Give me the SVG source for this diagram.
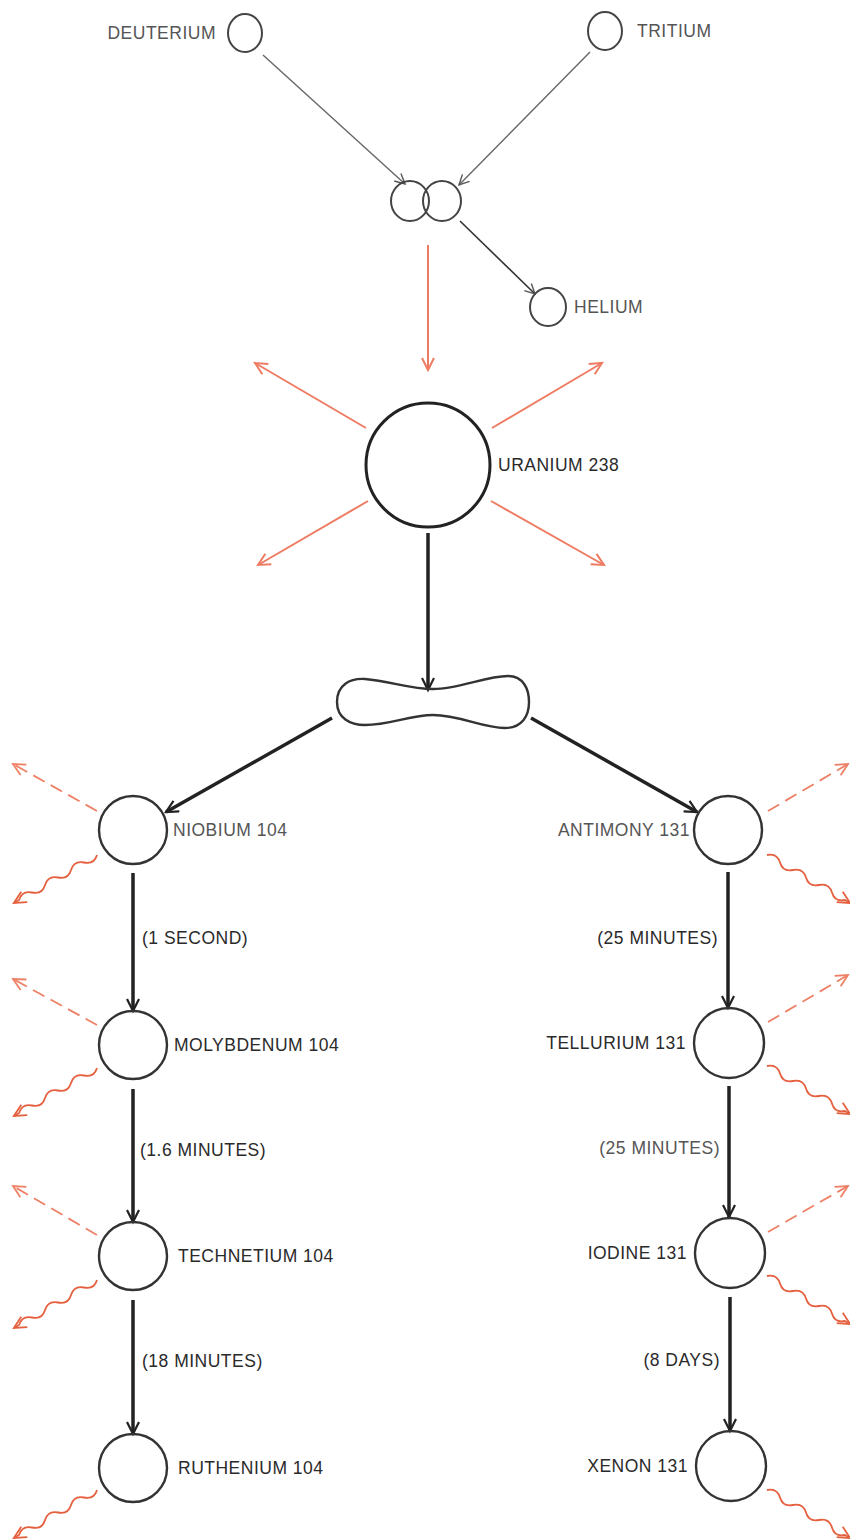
<svg xmlns="http://www.w3.org/2000/svg" width="850" height="1540" viewBox="0 0 850 1540">
<style>
text{font-family:"Liberation Sans",Arial,sans-serif;font-size:17.5px;letter-spacing:0.5px;fill:#2a2a2a}
.lt{fill:#555}
.c{fill:none;stroke:#333;stroke-width:2.4}
.ct{fill:none;stroke:#444;stroke-width:2}
.g{fill:none;stroke:#666;stroke-width:1.4}
.gd{fill:none;stroke:#333;stroke-width:1.6}
.s{fill:none;stroke:#ee7c62;stroke-width:2}
.b{fill:none;stroke:#222;stroke-width:3.5}
.d{fill:none;stroke:#ee8066;stroke-width:1.8;stroke-dasharray:13 7}
.w{fill:none;stroke:#e5603f;stroke-width:1.8}
</style>
<defs>
<marker id="mg" markerUnits="userSpaceOnUse" markerWidth="14" markerHeight="14" refX="11" refY="6" orient="auto"><path d="M1,1 L11,6 L1,11" fill="none" stroke="#555" stroke-width="1.4"/></marker>
<marker id="ms" markerUnits="userSpaceOnUse" markerWidth="16" markerHeight="16" refX="13" refY="7" orient="auto"><path d="M1,1 L13,7 L1,13" fill="none" stroke="#ee7c62" stroke-width="2"/></marker>
<marker id="mb" markerUnits="userSpaceOnUse" markerWidth="16" markerHeight="16" refX="13" refY="7" orient="auto"><path d="M1,1 L13,7 L1,13" fill="none" stroke="#222" stroke-width="2.2"/></marker>
<marker id="md" markerUnits="userSpaceOnUse" markerWidth="16" markerHeight="16" refX="13" refY="7" orient="auto"><path d="M1,1 L13,7 L1,13" fill="none" stroke="#ee8066" stroke-width="1.8"/></marker>
<marker id="mw" markerUnits="userSpaceOnUse" markerWidth="16" markerHeight="16" refX="13" refY="7" orient="auto"><path d="M1,1 L13,7 L1,13" fill="none" stroke="#e5603f" stroke-width="1.8"/></marker>
<path id="wave" class="w" marker-end="url(#mw)" d="M0,0 q7.5,-7 15,0 t15,0 t15,0 t15,0 t15,0 t15,0 l6,0"/>
</defs>
<rect width="850" height="1540" fill="#fff"/>

<g id="connectors">
<line class="g" x1="263" y1="55" x2="405" y2="184" marker-end="url(#mg)"/>
<line class="g" x1="590" y1="52" x2="459" y2="185" marker-end="url(#mg)"/>
<line class="gd" x1="460" y1="221" x2="535" y2="294" marker-end="url(#mg)"/>
<line class="s" x1="428" y1="245" x2="428" y2="370" marker-end="url(#ms)"/>
<line class="s" x1="366" y1="428" x2="255" y2="363" marker-end="url(#ms)"/>
<line class="s" x1="492" y1="428" x2="602" y2="363" marker-end="url(#ms)"/>
<line class="s" x1="368" y1="501" x2="258" y2="565" marker-end="url(#ms)"/>
<line class="s" x1="491" y1="501" x2="604" y2="565" marker-end="url(#ms)"/>
<line class="b" x1="428" y1="533" x2="428" y2="690" marker-end="url(#mb)"/>
<line class="b" x1="332" y1="718" x2="166" y2="812" marker-end="url(#mb)"/>
<line class="b" x1="531" y1="718" x2="697" y2="812" marker-end="url(#mb)"/>
<line class="b" x1="133" y1="873" x2="133" y2="1011" marker-end="url(#mb)"/>
<line class="b" x1="133" y1="1089" x2="133" y2="1222" marker-end="url(#mb)"/>
<line class="b" x1="133" y1="1300" x2="133" y2="1434" marker-end="url(#mb)"/>
<line class="b" x1="728" y1="872" x2="728" y2="1008" marker-end="url(#mb)"/>
<line class="b" x1="729" y1="1086" x2="729" y2="1217" marker-end="url(#mb)"/>
<line class="b" x1="730" y1="1297" x2="730" y2="1431" marker-end="url(#mb)"/>
<line class="d" x1="97" y1="811" x2="13" y2="764" marker-end="url(#md)"/>
<line class="d" x1="97" y1="1025" x2="13" y2="979" marker-end="url(#md)"/>
<line class="d" x1="97" y1="1235" x2="13" y2="1186" marker-end="url(#md)"/>
<use href="#wave" transform="translate(97,855) rotate(150)"/>
<use href="#wave" transform="translate(97,1068) rotate(150)"/>
<use href="#wave" transform="translate(97,1280) rotate(150)"/>
<use href="#wave" transform="translate(97,1490) rotate(150)"/>
<line class="d" x1="768" y1="811" x2="848" y2="764" marker-end="url(#md)"/>
<line class="d" x1="768" y1="1022" x2="848" y2="975" marker-end="url(#md)"/>
<line class="d" x1="768" y1="1232" x2="848" y2="1186" marker-end="url(#md)"/>
<use href="#wave" transform="translate(767,855) rotate(30)"/>
<use href="#wave" transform="translate(767,1066) rotate(30)"/>
<use href="#wave" transform="translate(767,1276) rotate(30)"/>
<use href="#wave" transform="translate(767,1490) rotate(30)"/>
</g>

<g id="labels">
<text x="142" y="944">(1 SECOND)</text>
<text x="140" y="1156">(1.6 MINUTES)</text>
<text x="142" y="1367">(18 MINUTES)</text>
<text x="718" y="944" text-anchor="end">(25 MINUTES)</text>
<text x="720" y="1154" text-anchor="end" class="lt">(25 MINUTES)</text>
<text x="720" y="1366" text-anchor="end">(8 DAYS)</text>
</g>

<g id="deuterium"><ellipse class="ct" cx="245" cy="33" rx="17" ry="19"/><text x="216" y="39" text-anchor="end" class="lt">DEUTERIUM</text></g>
<g id="tritium"><ellipse class="ct" cx="605" cy="31" rx="17" ry="19"/><text x="637" y="37" class="lt">TRITIUM</text></g>
<g id="fusion"><ellipse class="ct" cx="410" cy="201" rx="19" ry="20"/><ellipse class="ct" cx="442" cy="201" rx="19" ry="20"/></g>
<g id="helium"><ellipse class="ct" cx="548" cy="307" rx="18" ry="19"/><text x="574" y="313" class="lt">HELIUM</text></g>
<g id="uranium"><circle cx="428" cy="465" r="62" fill="none" stroke="#222" stroke-width="3"/><text x="498" y="471">URANIUM 238</text></g>
<g id="fission"><path class="c" d="M337,702 C337,685 350,678 365,679 C390,681 410,689 433,689 C460,689 485,676 508,676 C524,676 529,690 529,702 C529,716 522,728 505,728 C482,728 460,715 433,715 C410,715 390,725 365,725 C350,725 337,718 337,702 Z"/></g>
<g id="niobium"><circle class="c" cx="133" cy="830" r="34"/><text x="173" y="836" class="lt">NIOBIUM 104</text></g>
<g id="molybdenum"><circle class="c" cx="133" cy="1045" r="34"/><text x="174" y="1051">MOLYBDENUM 104</text></g>
<g id="technetium"><circle class="c" cx="133" cy="1256" r="34"/><text x="178" y="1262">TECHNETIUM 104</text></g>
<g id="ruthenium"><circle class="c" cx="133" cy="1468" r="34"/><text x="178" y="1474">RUTHENIUM 104</text></g>
<g id="antimony"><circle class="c" cx="728" cy="830" r="34"/><text x="690" y="836" text-anchor="end" class="lt">ANTIMONY 131</text></g>
<g id="tellurium"><circle class="c" cx="729" cy="1043" r="35"/><text x="686" y="1049" text-anchor="end">TELLURIUM 131</text></g>
<g id="iodine"><circle class="c" cx="730" cy="1253" r="35"/><text x="687" y="1259" text-anchor="end">IODINE 131</text></g>
<g id="xenon"><circle class="c" cx="731" cy="1466" r="35"/><text x="688" y="1472" text-anchor="end">XENON 131</text></g>
</svg>
